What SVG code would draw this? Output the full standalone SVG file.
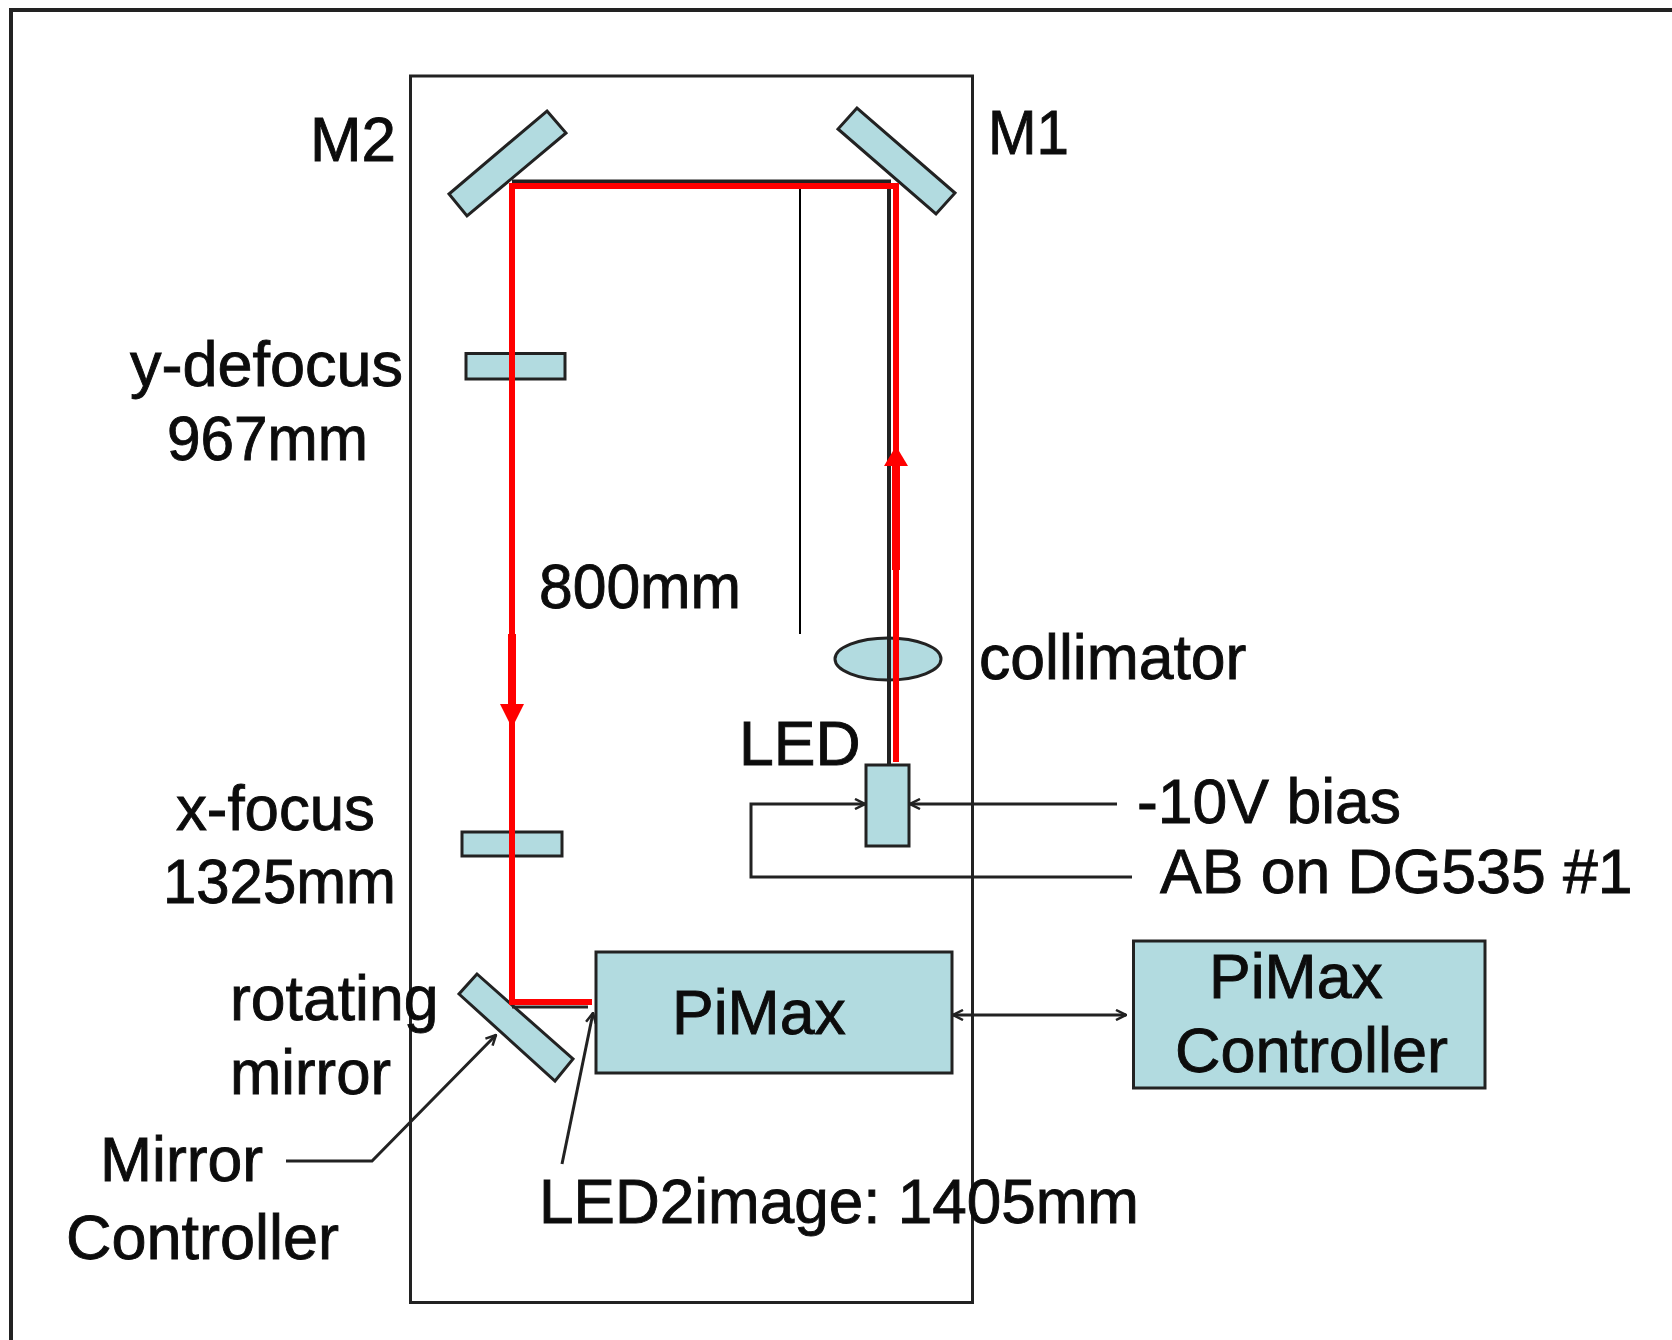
<svg xmlns="http://www.w3.org/2000/svg" width="1672" height="1340" viewBox="0 0 1672 1340">
<style>
text{font-family:"Liberation Sans",Arial,sans-serif;font-size:62.500px;fill:#0c0c0c;stroke:#0c0c0c;stroke-width:.9px;lengthAdjust:spacingAndGlyphs}
.box{fill:#b2dbe0;stroke:#222;stroke-width:3}
.wire{fill:none;stroke:#222;stroke-width:3}
.red{fill:none;stroke:#f00;stroke-width:6}
</style>
<defs>
<marker id="a" viewBox="0 0 12 12" refX="11" refY="6" markerWidth="12" markerHeight="12" markerUnits="userSpaceOnUse" orient="auto-start-reverse"><path d="M1 1L11 6L1 11" fill="none" stroke="#222" stroke-width="2.500"/></marker>
</defs>
<rect width="1672" height="1340" fill="#fff"/>
<path id="frame" d="M11 1340V10H1672" fill="none" stroke="#222" stroke-width="4"/>
<rect id="enclosure" x="410.500" y="76" width="562" height="1226.500" fill="none" stroke="#222" stroke-width="3"/>
<g id="m2"><polygon class="box" points="547,111 566,133 467,216 449,194"/><text x="310" y="161" textLength="86" lengthAdjust="spacingAndGlyphs">M2</text></g>
<g id="m1"><polygon class="box" points="857,108 838,129 936,214 955,193"/><text x="988" y="154" textLength="81" lengthAdjust="spacingAndGlyphs">M1</text></g>
<g id="y-defocus"><rect class="box" x="466" y="353.500" width="99" height="25.500"/><text x="130" y="386" textLength="273" lengthAdjust="spacingAndGlyphs">y-defocus</text><text x="167" y="460" textLength="201" lengthAdjust="spacingAndGlyphs">967mm</text></g>
<g id="x-focus"><rect class="box" x="462" y="832" width="100" height="24"/><text x="176" y="830" textLength="199" lengthAdjust="spacingAndGlyphs">x-focus</text><text x="163" y="903" textLength="233" lengthAdjust="spacingAndGlyphs">1325mm</text></g>
<g id="rotating-mirror"><polygon class="box" points="477,974 459,994 555,1081 573,1059"/><text x="230" y="1020">rotating</text><text x="230" y="1094" textLength="161" lengthAdjust="spacingAndGlyphs">mirror</text></g>
<g id="mirror-controller"><text x="100" y="1181">Mirror</text><text x="66" y="1259" textLength="273" lengthAdjust="spacingAndGlyphs">Controller</text></g>
<g id="collimator"><ellipse class="box" cx="888" cy="659" rx="53" ry="21"/><text x="979" y="679">collimator</text></g>
<g id="led"><rect class="box" x="866" y="765" width="43" height="81"/><text x="739" y="765">LED</text></g>
<g id="pimax"><rect class="box" x="596" y="952" width="356" height="121"/><text x="672" y="1034">PiMax</text></g>
<g id="pimax-controller"><rect class="box" x="1133.500" y="941" width="351.500" height="147"/><text x="1209" y="998">PiMax</text><text x="1175" y="1072" textLength="273" lengthAdjust="spacingAndGlyphs">Controller</text></g>
<g id="labels"><text x="539" y="608" textLength="202" lengthAdjust="spacingAndGlyphs">800mm</text><text x="1137" y="823">-10V bias</text><text x="1160" y="893">AB on DG535 #1</text><text x="539" y="1223" textLength="600" lengthAdjust="spacingAndGlyphs">LED2image: 1405mm</text></g>
<g id="connectors">
<path d="M889 765V181.500H512" fill="none" stroke="#222" stroke-width="4"/>
<path d="M800 186V634" fill="none" stroke="#000" stroke-width="2"/>
<path class="wire" marker-end="url(#a)" d="M1117 804H910"/>
<path class="wire" marker-end="url(#a)" d="M1132 877H751V804H865"/>
<path class="wire" marker-start="url(#a)" marker-end="url(#a)" d="M953 1015H1126"/>
<path class="wire" marker-end="url(#a)" d="M286 1161H372L496 1035"/>
<path class="wire" marker-end="url(#a)" d="M562 1164L593 1013"/>
<path class="wire" d="M512 1007H588"/>
<path class="red" d="M896 762V186H512V1002H592"/>
<path d="M896 570V460M512 634V710" fill="none" stroke="#f00" stroke-width="8"/>
<polygon points="896,446 884,466 908,466" fill="#f00"/>
<polygon points="512,728 500,704 524,704" fill="#f00"/>
</g>
</svg>
